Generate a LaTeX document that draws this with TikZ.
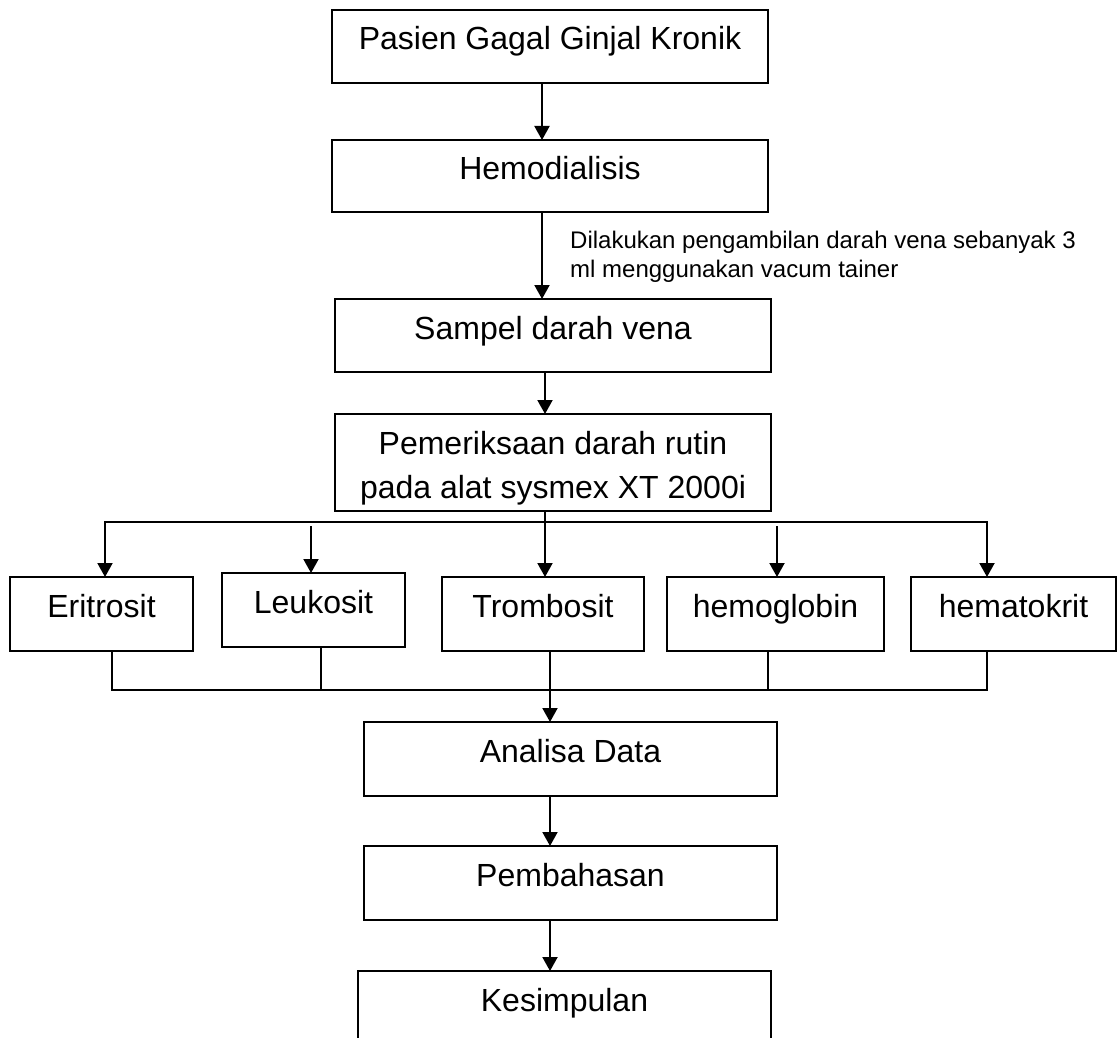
\documentclass[tikz,border=0pt]{standalone}
\usepackage{fontspec}
\setmainfont{Liberation Sans}
\usetikzlibrary{arrows.meta}
\begin{document}
\begin{tikzpicture}[x=1pt,y=-1pt,
  box/.style={draw, line width=1.9pt, inner sep=0pt, outer sep=0pt, anchor=north west, text height=40pt, font=\fontsize{32}{38}\selectfont},
  conn/.style={line width=2pt},
  arr/.style={conn, -{Triangle[width=15pt,length=14pt]}},
  note/.style={inner sep=0pt, anchor=base west, font=\fontsize{24}{29}\selectfont}]
\fill[white] (0,0) rectangle (1117,1038);
\useasboundingbox (0,0) rectangle (1117,1038);

% main column
\node[box, minimum width=436pt, text depth=33pt] (b1) at (332,10) {Pasien Gagal Ginjal Kronik};
\node[box, minimum width=436pt, text depth=32pt] (b2) at (332,140) {Hemodialisis};
\node[box, minimum width=436pt, text depth=33pt] (b3) at (335,299) {Sampel darah vena};
\node[box, minimum width=436pt, text depth=57pt, font=\fontsize{32}{44}\selectfont] (b4) at (335,414)
  {\begin{tabular}[t]{@{}c@{}}Pemeriksaan darah rutin\\pada alat sysmex XT 2000i\end{tabular}};

% row of results
\node[box, minimum width=183pt, text depth=34pt] (e) at (10,577) {Eritrosit};
\node[box, minimum width=183pt, text depth=34pt] (l) at (222,573) {Leukosit};
\node[box, minimum width=202pt, text depth=34pt] (t) at (442,577) {Trombosit};
\node[box, minimum width=217pt, text depth=34pt] (hg) at (667,577) {hemoglobin};
\node[box, minimum width=205pt, text depth=34pt] (ht) at (911,577) {hematokrit};

% lower column
\node[box, minimum width=413pt, text depth=34pt] (a) at (364,722) {Analisa Data};
\node[box, minimum width=413pt, text depth=34pt] (p) at (364,846) {Pembahasan};
\node[box, draw=none, minimum width=413pt, text depth=40pt] (k) at (358,971) {Kesimpulan};
\draw[line width=1.9pt] (k.south west) |- (k.north east) -- (k.south east);

% note
\node[note] (lbl) at (570,248) {\begin{tabular}[t]{@{}l@{}}Dilakukan pengambilan darah vena sebanyak 3\\ml menggunakan vacum tainer\end{tabular}};

% connectors
\draw[arr] ([xshift=-8pt]b1.south) -- ([xshift=-8pt]b2.north);
\draw[arr] ([xshift=-8pt]b2.south) -- ([xshift=-11pt]b3.north);
\draw[arr] ([xshift=-8pt]b3.south) -- ([xshift=-8pt]b4.north);
\coordinate (split) at (545,522);
\draw[arr] ([xshift=-8pt]b4.south) -- ([xshift=2pt]t.north);
\draw[arr] (split) -| ([xshift=3.5pt]e.north);
\draw[arr] (split) -| ([xshift=-26.5pt]ht.north);
\draw[arr] ([xshift=-2.5pt,yshift=47pt]l.north) -- ([xshift=-2.5pt]l.north);
\draw[arr] ([xshift=1.5pt,yshift=51pt]hg.north) -- ([xshift=1.5pt]hg.north);

\coordinate (merge) at (550,690);
\draw[conn] ([xshift=10.5pt]e.south) |- (merge);
\draw[conn] ([xshift=7.5pt]l.south) |- (merge);
\draw[conn] ([xshift=-7.5pt]hg.south) |- (merge);
\draw[conn] ([xshift=-26.5pt]ht.south) |- (merge);
\draw[arr] ([xshift=7pt]t.south) -- ([xshift=-20.5pt]a.north);
\draw[arr] ([xshift=-20.5pt]a.south) -- ([xshift=-20.5pt]p.north);
\draw[arr] ([xshift=-20.5pt]p.south) -- ([xshift=-14.5pt]k.north);
\end{tikzpicture}
\end{document}
